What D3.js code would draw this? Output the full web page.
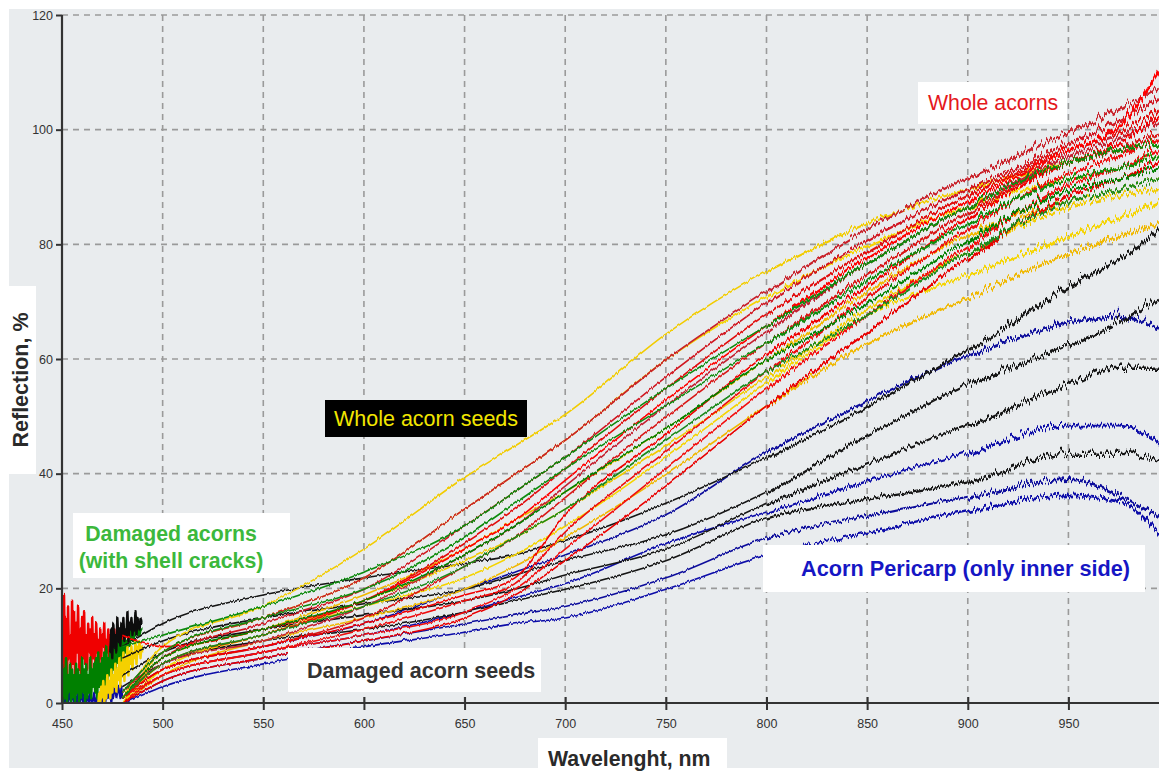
<!DOCTYPE html>
<html><head><meta charset="utf-8">
<script src="https://cdn.jsdelivr.net/npm/d3@7/dist/d3.min.js"></script>
<style>body{margin:0;background:#fff}svg{display:block}</style>
</head><body>
<svg id="chart" width="1159" height="771"></svg>
<script>
// ---------- DATA ----------
const wavelengths = [480, 500, 550, 600, 650, 675, 700, 750, 800, 850, 900, 950, 975, 995];
const xTicks = [450, 500, 550, 600, 650, 700, 750, 800, 850, 900, 950];
const yTicks = [0, 20, 40, 60, 80, 100, 120];

// Whole acorn seeds (yellow)
const seedsYellow = [
  [1, 10, 17, 27, 39.5, 45, 50.5, 64.5, 75.5, 84, 90, 95, 97, 98],
  [0, 9, 15, 22, 34, 40, 46, 60, 71, 80, 87, 92, 94, 96],
  [0, 8, 13, 19, 27, 32, 37, 48, 60, 72, 82, 88, 90, 92],
  [0, 7, 12, 18, 25, 29, 34, 45, 57, 69, 79, 87, 89, 90],
  [0, 6, 12, 17, 22, 26, 31, 43, 56, 68, 75, 82, 85, 88],
  [0, 5, 11, 15, 20, 24, 29, 40, 52, 63, 71, 79, 82, 84]
];
// Whole acorns (red)
const acornsRed = [
  [2, 9, 15, 22, 34, 40, 46, 60, 72, 83, 92, 100, 104, 108],
  [2, 8, 14, 20, 31, 37, 43, 57, 70, 81, 90, 98, 102, 106],
  [1, 7, 12, 18, 28, 34, 41, 55, 68, 79, 89, 97, 100, 104],
  [1, 7, 11, 17, 26, 31, 38, 52, 65, 77, 87, 96, 99, 102],
  [1, 6, 10, 15, 24, 29, 36, 50, 63, 75, 86, 95, 97, 100],
  [1, 6, 10, 14, 19, 22, 33, 47, 61, 73, 85, 95, 98, 103],
  [1, 5, 9, 13, 18, 21, 30, 44, 58, 71, 83, 93, 96, 99],
  [0, 5, 9, 12, 16, 20, 27, 41, 55, 68, 80, 91, 94, 97],
  [0, 4, 8, 11, 15, 19, 25, 38, 52, 65, 78, 89, 92, 95],
  [12, 10, 13, 18, 27, 32, 39, 53, 66, 78, 88, 97, 101, 111]
];
// Damaged acorns (green)
const damagedGreen = [
  [10, 12, 17, 23, 31, 37, 43, 55, 66, 77, 87, 95, 97, 98],
  [2, 9, 15, 20, 29, 35, 41, 52, 63, 74, 84, 92, 94, 96],
  [1, 8, 13, 18, 26, 31, 37, 48, 60, 70, 81, 90, 92, 94],
  [1, 7, 12, 17, 24, 29, 34, 46, 58, 68, 79, 88, 90, 92]
];
// Damaged acorn seeds (black)
const damagedSeedsBlack = [
  [10, 14, 19, 22, 24.5, 26, 28.5, 35, 43, 52, 62, 73, 78, 83],
  [8, 11, 15, 17.5, 20, 22.5, 25, 29.5, 37, 47, 56, 63, 67, 71],
  [5, 9, 13, 15.5, 18, 20, 22.5, 27, 35, 42, 49, 56, 59, 59],
  [3, 7, 11, 13, 16, 18, 20, 25, 32.5, 36, 39, 44, 44, 43]
];
// Acorn pericarp, inner side (blue)
const pericarpBlue = [
  [1, 6, 10, 14, 20, 23, 26, 33, 44, 53, 61, 67, 68, 66],
  [0, 5, 9, 12, 16, 18.5, 21, 28, 33.5, 39, 44, 49, 49, 46],
  [0, 4, 8, 11, 14, 15.5, 17, 22, 29, 33, 36.5, 39.5, 37, 33],
  [0, 3, 7, 10, 12.5, 14, 15, 20, 26, 30, 34, 37, 36, 30]
];
// Noisy beginnings of spectra (sampled every 0.5 nm)
const redStart = {from: 450, values: [18,3,19,6,15,4,17,8,12,5,18,7,16,4,14,9,17,6,13,5,15,8,16,7,12,6,14,9,13,5,15,8,12,7,14,9,11,6,13,8,12,10,14,7,11,9,13,8,12,10,11,9,13,10,12,11,13,10,12,11,12,11,12,12,12]};
const greenStart = {from: 450, values: [7,0,6,1,8,0,5,2,7,0,6,1,5,0,7,2,6,0,5,1,8,2,6,0,7,1,5,2,8,1,6,3,7,2,8,1,9,3,7,2,8,4,9,3,10,4,8,5,10,4,9,6,11,5,10,7,11,6,12,7,11,8,12,9,11,10,12,10,13,11,12,11,13,12,12,12,13,12,13,13,13]};
const blackStart = {from: 474, values: [9,13,8,14,10,12,9,15,11,13,10,14,12,15,11,13,12,16,11,14,13,15,12,14,13,16,12,15,14,13,15,14,14]};
const yellowStart = {from: 468, values: [0,2,0,3,1,4,0,3,1,5,2,4,1,6,2,5,3,7,2,6,4,8,3,7,5,9,4,8,6,10,5,9,7,10,6,9,8,11,7,10,9,11,8,10,9]};
const blueStart = {from: 450, values: [1,0,2,0,1,3,0,2,1,0,2,1,0,3,1,0,2,1,0,1,2,0,1,3,0,2,1,0,2,1,0,1,2,0,1,0,2,1,0,1,0,2,1,0,2,1,3,1,2,0,2,1,3,2,1,2,3,2,1,3,1]};

// ---------- CHART ----------
const W = 1159, H = 771;
const svg = d3.select("#chart");
const x = d3.scaleLinear().domain([450, 995]).range([62, 1159]);
const y = d3.scaleLinear().domain([0, 120]).range([703, 15]);

svg.append("rect").attr("width", W).attr("height", H).attr("fill", "#fff");
svg.append("rect").attr("x", 9).attr("y", 9).attr("width", W - 9).attr("height", 759).attr("fill", "#e9ecee");

// grid
const grid = svg.append("g").attr("stroke", "#9a9a9a").attr("stroke-width", 1.6).attr("stroke-dasharray", "6,5");
grid.selectAll(".gx").data(xTicks.filter(d => d > 450)).join("line")
  .attr("x1", d => x(d)).attr("x2", d => x(d)).attr("y1", y(120)).attr("y2", y(0));
grid.selectAll(".gy").data(yTicks.filter(d => d > 0)).join("line")
  .attr("x1", x(450)).attr("x2", W).attr("y1", d => y(d)).attr("y2", d => y(d));

// spectral-noise texture (visual only): vertical jitter via displacement map
const defs = svg.append("defs");
function jitterFilter(id, scale, freq) {
  const f = defs.append("filter").attr("id", id).attr("x", "-5%").attr("y", "-10%").attr("width", "110%").attr("height", "120%");
  f.append("feTurbulence").attr("type", "turbulence").attr("baseFrequency", `${freq} 0.012`).attr("numOctaves", 2).attr("seed", 3).attr("result", "t");
  f.append("feColorMatrix").attr("in", "t").attr("type", "matrix")
    .attr("values", "0 0 0 0 0.5  0 1 0 0 0  0 0 1 0 0  0 0 0 0 1").attr("result", "m");
  f.append("feDisplacementMap").attr("in", "SourceGraphic").attr("in2", "m").attr("scale", scale)
    .attr("xChannelSelector", "R").attr("yChannelSelector", "G");
}
jitterFilter("j1", 3.5, 0.3);
jitterFilter("j2", 8, 0.3);
jitterFilter("j3", 13, 0.3);

const zones = [
  {id: "z1", x0: 450, x1: 800, filter: "j1", sw: 1.6},
  {id: "z2", x0: 800, x1: 900, filter: "j2", sw: 2.2},
  {id: "z3", x0: 900, x1: 995, filter: "j3", sw: 2.7}
];
const line = d3.line().x(d => x(d[0])).y(d => y(d[1])).curve(d3.curveMonotoneX);
const lineRaw = d3.line().x(d => x(d[0])).y(d => y(d[1]));

function drawAll(plot, sw) {
  function drawGroup(series, colors) {
    series.forEach((vals, i) => {
      const pts = wavelengths.map((w, j) => [w, vals[j]]);
      plot.append("path").attr("d", line(pts)).attr("stroke", colors[i % colors.length]).attr("stroke-width", sw);
    });
  }
  function drawStart(s, color, width) {
    const pts = s.values.map((v, i) => [s.from + i * 0.5, v]);
    plot.append("path").attr("d", lineRaw(pts)).attr("stroke", color).attr("stroke-width", width);
  }
  drawStart(blueStart, "#0a0aa0", 2);
  drawStart(redStart, "#f00000", 2.5);
  drawStart(greenStart, "#008000", 2.5);
  drawStart(yellowStart, "#f5d000", 2.5);
  drawStart(blackStart, "#111111", 2.5);
  drawGroup(pericarpBlue, ["#10109c", "#0a0aa8"]);
  drawGroup(damagedSeedsBlack, ["#141414"]);
  drawGroup(seedsYellow, ["#f2cc00", "#f5d400", "#f0b800"]);
  drawGroup(acornsRed, ["#c8202a", "#d01820", "#e01010", "#c42030", "#d81818", "#f00000", "#ee0808", "#f20a0a", "#e80000", "#ff0000"]);
  drawGroup(damagedGreen, ["#0a8a0a", "#108c10", "#008000", "#1a8a1a"]);
}
zones.forEach(z => {
  defs.append("clipPath").attr("id", z.id).append("rect")
    .attr("x", x(z.x0)).attr("y", y(120)).attr("width", x(z.x1) - x(z.x0) + (z.x1 === 995 ? 2 : 0)).attr("height", y(0) - y(120));
  const outer = svg.append("g").attr("clip-path", `url(#${z.id})`);
  const inner = outer.append("g").attr("filter", `url(#${z.filter})`).attr("fill", "none").attr("stroke-linejoin", "round");
  drawAll(inner, z.sw);
});

// axes
const fontTick = "'Liberation Sans Narrow','Arial Narrow','Liberation Sans',Arial,sans-serif";
const ya = svg.append("g").attr("transform", `translate(${x(450)},0)`)
  .call(d3.axisLeft(y).tickValues(yTicks).tickSize(6).tickPadding(3));
const xa = svg.append("g").attr("transform", `translate(0,${y(0)})`)
  .call(d3.axisBottom(x).tickValues(xTicks).tickSize(7).tickPadding(9));
[ya, xa].forEach(a => {
  a.select(".domain").attr("stroke", "#333").attr("stroke-width", 2.2);
  a.selectAll(".tick line").attr("stroke", "#333").attr("stroke-width", 2);
  a.selectAll(".tick text").attr("fill", "#333").style("font-family", fontTick).style("font-size", "12.5px");
});
xa.selectAll(".tick line").attr("y1", -6);
xa.select(".domain").attr("d", `M${x(450)},0H${W}`);
ya.select(".domain").attr("d", `M0,${y(120)}V${y(0)}`);

// labels
const fontLab = "'Liberation Sans',Arial,Helvetica,sans-serif";
function label(lines, bx, by, bw, bh, tx, ty, color, bg, weight, size, lh, anchor) {
  const g = svg.append("g");
  g.append("rect").attr("x", bx).attr("y", by).attr("width", bw).attr("height", bh).attr("fill", bg);
  lines.forEach((t, i) => {
    g.append("text").attr("x", tx).attr("y", ty + i * (lh || 0)).text(t).attr("text-anchor", anchor || "start")
      .attr("fill", color).style("font-family", fontLab).style("font-weight", weight).style("font-size", size + "px");
  });
}
label(["Whole acorns"], 918, 82, 149, 42, 928, 110, "#e4181c", "#fff", "normal", 21.3);
label(["Whole acorn seeds"], 325, 400, 202, 37, 334, 426, "#f2e600", "#000", "normal", 21.5);
label(["Damaged acorns", "(with shell cracks)"], 73, 513, 217, 65, 171, 541, "#3cb83c", "#fff", "bold", 21.3, 27, "middle");
label(["Damaged acorn seeds"], 288, 648, 253, 44, 307, 678, "#333333", "#fff", "bold", 21.5);
label(["Acorn Pericarp (only inner side)"], 763, 545, 382, 47, 801, 576, "#1616c4", "#fff", "bold", 21.7);
label(["Wavelenght, nm"], 538, 738, 189, 33, 548, 766, "#2a2a2a", "#fff", "bold", 21.3);

// y title
const yt = svg.append("g").attr("transform", "translate(28,380) rotate(-90)");
yt.append("rect").attr("x", -94).attr("y", -23).attr("width", 188).attr("height", 31).attr("fill", "#fff");
yt.append("text").attr("text-anchor", "middle").attr("x", 0).attr("y", 0).text("Reflection, %")
  .attr("fill", "#2a2a2a").style("font-family", fontLab).style("font-weight", "bold").style("font-size", "21.5px");
</script>
</body></html>
